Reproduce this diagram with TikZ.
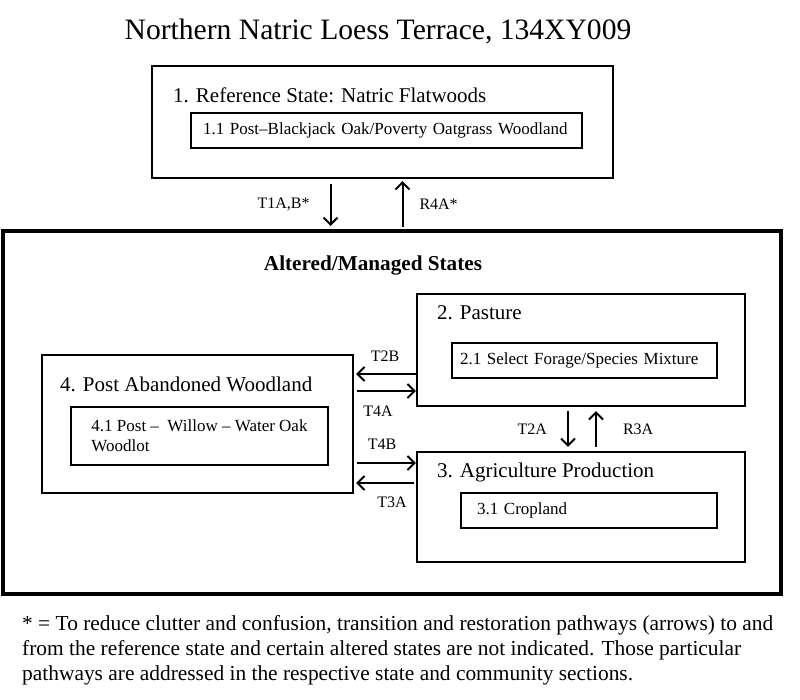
\documentclass[tikz,border=0pt]{standalone}
\usepackage{fontspec}
\setmainfont{Liberation Serif}
\usetikzlibrary{arrows.meta}

\tikzset{
  statebox/.style={draw, line width=2.2pt, inner sep=0pt},
  phasebox/.style={draw, line width=1.5pt, align=left, font=\fontsize{17}{20}\selectfont},
  statetitle/.style={anchor=west, inner sep=0pt, font=\fontsize{21}{24}\selectfont},
  pathlabel/.style={inner sep=0pt, font=\fontsize{16}{18}\selectfont},
  trans/.style={line width=2pt, -{Straight Barb[length=7pt,width=14pt]}}
}

\begin{document}
\begin{tikzpicture}[x=1pt,y=-1pt]
  \useasboundingbox (0,0) rectangle (800,699);
  \node[inner sep=0pt, font=\fontsize{29.6}{32}\selectfont] (title) at (378,32) {Northern Natric Loess Terrace, 134XY009};

  \node[statebox, minimum width=461pt, minimum height=112pt] (ref) at (382.5,122) {};
  \node[statetitle] (refname) at (173,95) {1. Reference State: Natric Flatwoods};
  \node[phasebox, text width=367pt, inner xsep=12pt, minimum height=35pt] (refphase) at (386.5,130.5) {1.1 Post–Blackjack Oak/Poverty Oatgrass Woodland};

  \node[statebox, line width=4pt, minimum width=778pt, minimum height=363pt] (altered) at (392,412.5) {};
  \node[inner sep=0pt, font=\bfseries\fontsize{21.2}{24}\selectfont] (alteredname) at (373,265) {Altered/Managed States};

  \node[statebox, minimum width=328pt, minimum height=112pt] (pasture) at (581,350) {};
  \node[statetitle] (pasturename) at (437,313) {2. Pasture};
  \node[phasebox, text width=249pt, inner xsep=8pt, minimum height=35pt] (pasturephase) at (584.5,360.5) {2.1 Select Forage/Species Mixture};

  \node[statebox, minimum width=328pt, minimum height=110pt] (agri) at (581,507) {};
  \node[statetitle] (agriname) at (437,472) {3. Agriculture Production};
  \node[phasebox, text width=224pt, inner xsep=16pt, minimum height=35pt] (agriphase) at (589,510.5) {3.1 Cropland};

  \node[statebox, minimum width=311pt, minimum height=138pt] (woodland) at (197.5,424) {};
  \node[statetitle] (woodlandname) at (60,384) {4. Post Abandoned Woodland};
  \node[phasebox, minimum width=257pt, minimum height=58pt] (woodlandphase) at (199.5,436) {4.1 Post –\ \ Willow – Water Oak\\Woodlot};

  \draw[trans, shorten <=5pt, shorten >=3pt] ([xshift=-52pt]ref.south) -- ([xshift=-52pt]ref.south |- altered.north) node[pathlabel, midway, left=20pt] {T1A,B*};
  \draw[trans, shorten <=2pt, shorten >=2pt] ([xshift=20pt]ref.south |- altered.north) -- ([xshift=20pt]ref.south) node[pathlabel, midway, right=16pt] {R4A*};

  \draw[trans, shorten >=2pt] ([yshift=-24pt]pasture.west) -- ([yshift=-24pt]pasture.west -| woodland.east) node[pathlabel, midway, above=11pt] {T2B};
  \draw[trans, shorten <=3pt] ([yshift=-41pt]pasture.west -| woodland.east) -- ([yshift=-41pt]pasture.west) node[pathlabel, midway, below=14pt, xshift=-7pt] {T4A};
  \draw[trans, shorten <=3pt] ([yshift=44pt]agri.west -| woodland.east) -- ([yshift=44pt]agri.west) node[pathlabel, midway, above=12pt, xshift=-3pt] {T4B};
  \draw[trans, shorten <=2pt, shorten >=2pt] ([yshift=24pt]agri.west) -- ([yshift=24pt]agri.west -| woodland.east) node[pathlabel, midway, below=13pt, xshift=7pt] {T3A};

  \draw[trans, shorten <=4pt, shorten >=4pt] ([xshift=-13pt]pasture.south) -- ([xshift=-13pt]agri.north) node[pathlabel, midway, left=20pt] {T2A};
  \draw[trans, shorten <=4pt, shorten >=4pt] ([xshift=15pt]agri.north) -- ([xshift=15pt]pasture.south) node[pathlabel, midway, right=26pt] {R3A};

  \node[anchor=north west, inner sep=0pt, align=left, font=\fontsize{21.4}{25}\selectfont] (footnote) at (22,615) {* = To reduce clutter and confusion, transition and restoration pathways (arrows) to and\\from the reference state and certain altered states are not indicated. Those particular\\pathways are addressed in the respective state and community sections.};
\end{tikzpicture}
\end{document}
